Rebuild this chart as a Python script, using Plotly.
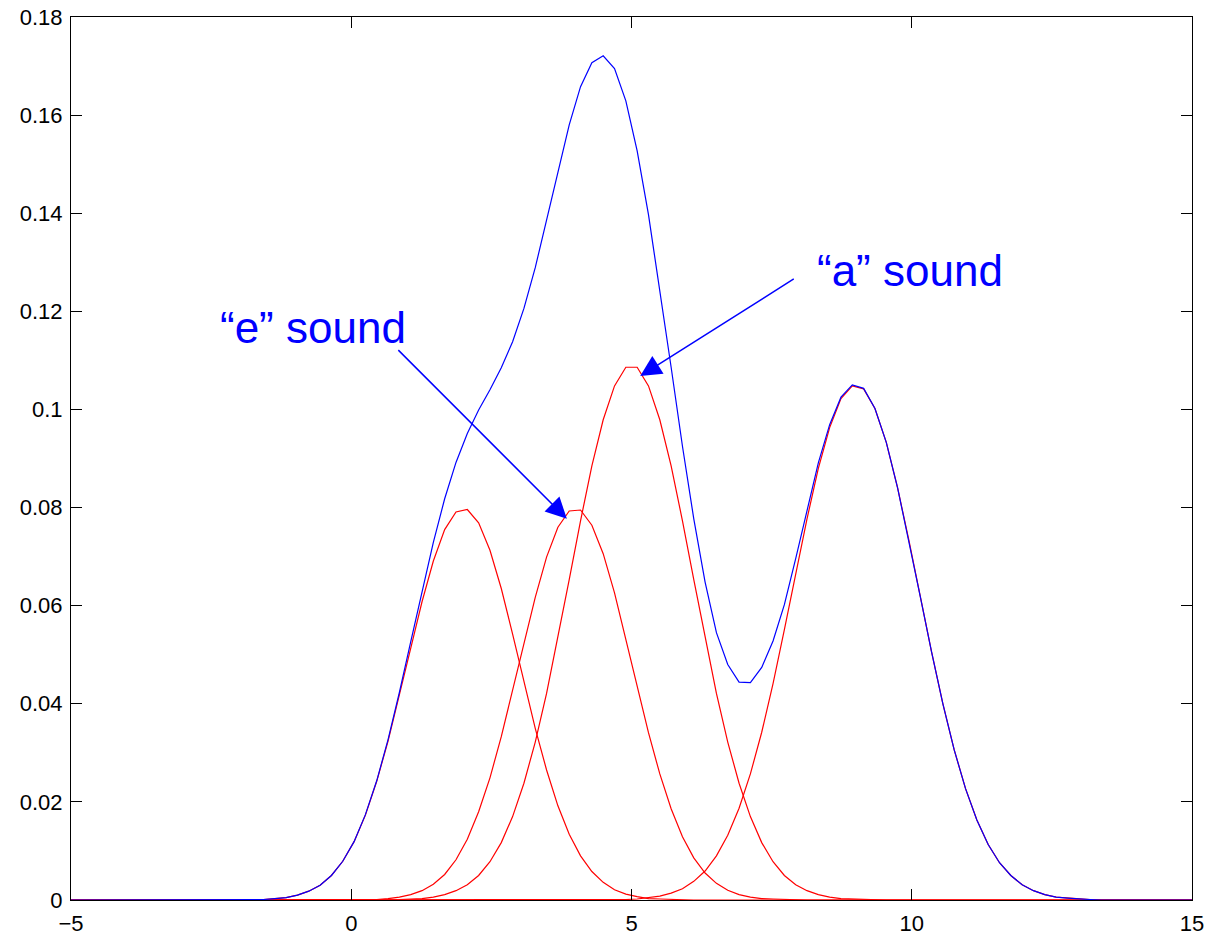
import plotly.graph_objects as go

# sample positions (100 samples from -5 to 15)
x_samples = [
    -5.0, -4.798, -4.596, -4.3939, -4.1919, -3.9899, -3.7879, -3.5859, -3.3838, -3.1818,
    -2.9798, -2.7778, -2.5758, -2.3737, -2.1717, -1.9697, -1.7677, -1.5657, -1.3636, -1.1616,
    -0.9596, -0.7576, -0.5556, -0.3535, -0.1515, 0.0505, 0.2525, 0.4545, 0.6566, 0.8586,
    1.0606, 1.2626, 1.4646, 1.6667, 1.8687, 2.0707, 2.2727, 2.4747, 2.6768, 2.8788,
    3.0808, 3.2828, 3.4848, 3.6869, 3.8889, 4.0909, 4.2929, 4.4949, 4.697, 4.899,
    5.101, 5.303, 5.5051, 5.7071, 5.9091, 6.1111, 6.3131, 6.5152, 6.7172, 6.9192,
    7.1212, 7.3232, 7.5253, 7.7273, 7.9293, 8.1313, 8.3333, 8.5354, 8.7374, 8.9394,
    9.1414, 9.3434, 9.5455, 9.7475, 9.9495, 10.1515, 10.3535, 10.5556, 10.7576, 10.9596,
    11.1616, 11.3636, 11.5657, 11.7677, 11.9697, 12.1717, 12.3737, 12.5758, 12.7778, 12.9798,
    13.1818, 13.3838, 13.5859, 13.7879, 13.9899, 14.1919, 14.3939, 14.596, 14.798, 15.0,
]

# red component curves
comp_1 = [0.0] * 16 + [
    0.0001, 0.0001, 0.0003, 0.0005, 0.0010, 0.0018, 0.0030, 0.0050, 0.0079, 0.0119,
    0.0173, 0.0242, 0.0324, 0.0416, 0.0513, 0.0608, 0.0691, 0.0755, 0.0791, 0.0796,
    0.0769, 0.0713, 0.0635, 0.0542, 0.0445, 0.0350, 0.0265, 0.0192, 0.0134, 0.0090,
    0.0058, 0.0036, 0.0021, 0.0012, 0.0007, 0.0003, 0.0002, 0.0001,
] + [0.0] * 46

comp_2 = [0.0] * 26 + [
    0.0001, 0.0001, 0.0003, 0.0006, 0.0011, 0.0019, 0.0032, 0.0052, 0.0082, 0.0124,
    0.0180, 0.0249, 0.0333, 0.0426, 0.0523, 0.0617, 0.0699, 0.0760, 0.0793, 0.0795,
    0.0764, 0.0706, 0.0626, 0.0533, 0.0435, 0.0341, 0.0257, 0.0186, 0.0129, 0.0086,
    0.0055, 0.0034, 0.0020, 0.0011, 0.0006, 0.0003, 0.0002, 0.0001,
] + [0.0] * 36

comp_3 = [0.0] * 29 + [
    0.0001, 0.0002, 0.0003, 0.0006, 0.0011, 0.0019, 0.0031, 0.0050, 0.0078, 0.0117,
    0.0170, 0.0238, 0.0322, 0.0421, 0.0534, 0.0653, 0.0773, 0.0885, 0.0979, 0.1048,
    0.1086, 0.1086,
    0.1048, 0.0979, 0.0885, 0.0773, 0.0653, 0.0534, 0.0421, 0.0322, 0.0238, 0.0170,
    0.0117, 0.0078, 0.0050, 0.0031, 0.0019, 0.0011, 0.0006, 0.0003, 0.0002, 0.0001,
] + [0.0] * 29

comp_4 = [0.0] * 49 + [
    0.0001, 0.0002, 0.0005, 0.0008, 0.0014, 0.0023, 0.0038, 0.0059, 0.0090, 0.0132,
    0.0187, 0.0257, 0.0342, 0.0441, 0.0551, 0.0665, 0.0777, 0.0880, 0.0963, 0.1022,
    0.1048, 0.1042, 0.1002, 0.0933, 0.0840, 0.0733, 0.0619, 0.0506, 0.0400, 0.0306,
    0.0227, 0.0163, 0.0113, 0.0076, 0.0050, 0.0031, 0.0019, 0.0011, 0.0006, 0.0004,
    0.0002, 0.0001,
] + [0.0] * 9

# blue mixture curve
mixture = [0.0] * 16 + [
    0.0001, 0.0001, 0.0003, 0.0005, 0.0010, 0.0018, 0.0030, 0.0050, 0.0079, 0.0119,
    0.0174, 0.0243, 0.0327, 0.0423, 0.0526, 0.0630, 0.0729, 0.0818, 0.0892, 0.0951,
    0.0999, 0.1040, 0.1085, 0.1138, 0.1206, 0.1289, 0.1385, 0.1486, 0.1580, 0.1658,
    0.1707, 0.1721, 0.1695, 0.1629, 0.1527, 0.1397, 0.1246, 0.1086, 0.0925, 0.0777,
    0.0648, 0.0545, 0.0480, 0.0444, 0.0443, 0.0474, 0.0528, 0.0602, 0.0696, 0.0796,
    0.0891, 0.0969, 0.1025, 0.1050, 0.1043,
    0.1002, 0.0933, 0.0840, 0.0733, 0.0619, 0.0506, 0.0400, 0.0306, 0.0227, 0.0163,
    0.0113, 0.0076, 0.0050, 0.0031, 0.0019, 0.0011, 0.0006, 0.0004, 0.0002, 0.0001,
] + [0.0] * 9

x_tick_vals = [-5, 0, 5, 10, 15]
x_tick_text = ["\u22125", "0", "5", "10", "15"]
y_tick_vals = [0, 0.02, 0.04, 0.06, 0.08, 0.1, 0.12, 0.14, 0.16, 0.18]
y_tick_text = ["0", "0.02", "0.04", "0.06", "0.08", "0.1", "0.12", "0.14", "0.16", "0.18"]

labels = ["\u201ce\u201d sound", "\u201ca\u201d sound"]

RED = "#ff0000"
BLUE = "#0000ff"
FONT = "Liberation Sans, Arial, Helvetica, sans-serif"

fig = go.Figure()
for comp in (comp_1, comp_2, comp_3, comp_4):
    fig.add_trace(go.Scatter(x=x_samples, y=comp, mode="lines",
                             line=dict(color=RED, width=1.2), showlegend=False))
fig.add_trace(go.Scatter(x=x_samples, y=mixture, mode="lines",
                         line=dict(color=BLUE, width=1.2), showlegend=False))

# arrows
fig.add_annotation(x=3.847, y=0.0777, ax=0.813, ay=0.1124, axref="x", ayref="y",
                   xref="x", yref="y", text="", showarrow=True, arrowhead=2,
                   arrowsize=2.8, arrowwidth=1.5, arrowcolor=BLUE, standoff=0)
fig.add_annotation(x=5.155, y=0.1068, ax=7.922, ay=0.1268, axref="x", ayref="y",
                   xref="x", yref="y", text="", showarrow=True, arrowhead=2,
                   arrowsize=2.8, arrowwidth=1.5, arrowcolor=BLUE, standoff=0)
# texts
fig.add_annotation(x=-2.376, y=0.1167, xref="x", yref="y", text=labels[0],
                   showarrow=False, xanchor="left", yanchor="middle",
                   font=dict(family=FONT, size=44, color=BLUE))
fig.add_annotation(x=8.279, y=0.1284, xref="x", yref="y", text=labels[1],
                   showarrow=False, xanchor="left", yanchor="middle",
                   font=dict(family=FONT, size=44, color=BLUE))

axis_common = dict(showline=True, mirror="ticks", linecolor="black", linewidth=1,
                   ticks="inside", ticklen=11, tickwidth=1, tickcolor="black",
                   showgrid=False, zeroline=False, automargin=False,
                   tickfont=dict(family=FONT, size=22, color="black"))

fig.update_layout(
    width=1211, height=937,
    margin=dict(l=71, r=19, t=17, b=37),
    paper_bgcolor="white", plot_bgcolor="white",
    xaxis=dict(range=[-5, 15], tickvals=x_tick_vals, ticktext=x_tick_text,
               ticklabelstandoff=4, **axis_common),
    yaxis=dict(range=[0, 0.18], tickvals=y_tick_vals, ticktext=y_tick_text,
               ticklabelstandoff=3, **axis_common),
)

fig.write_html(
    "out.html",
    config={"displayModeBar": False},
    post_script="document.body.style.margin='0';document.body.style.padding='0';"
                "document.body.style.overflow='hidden';",
)
